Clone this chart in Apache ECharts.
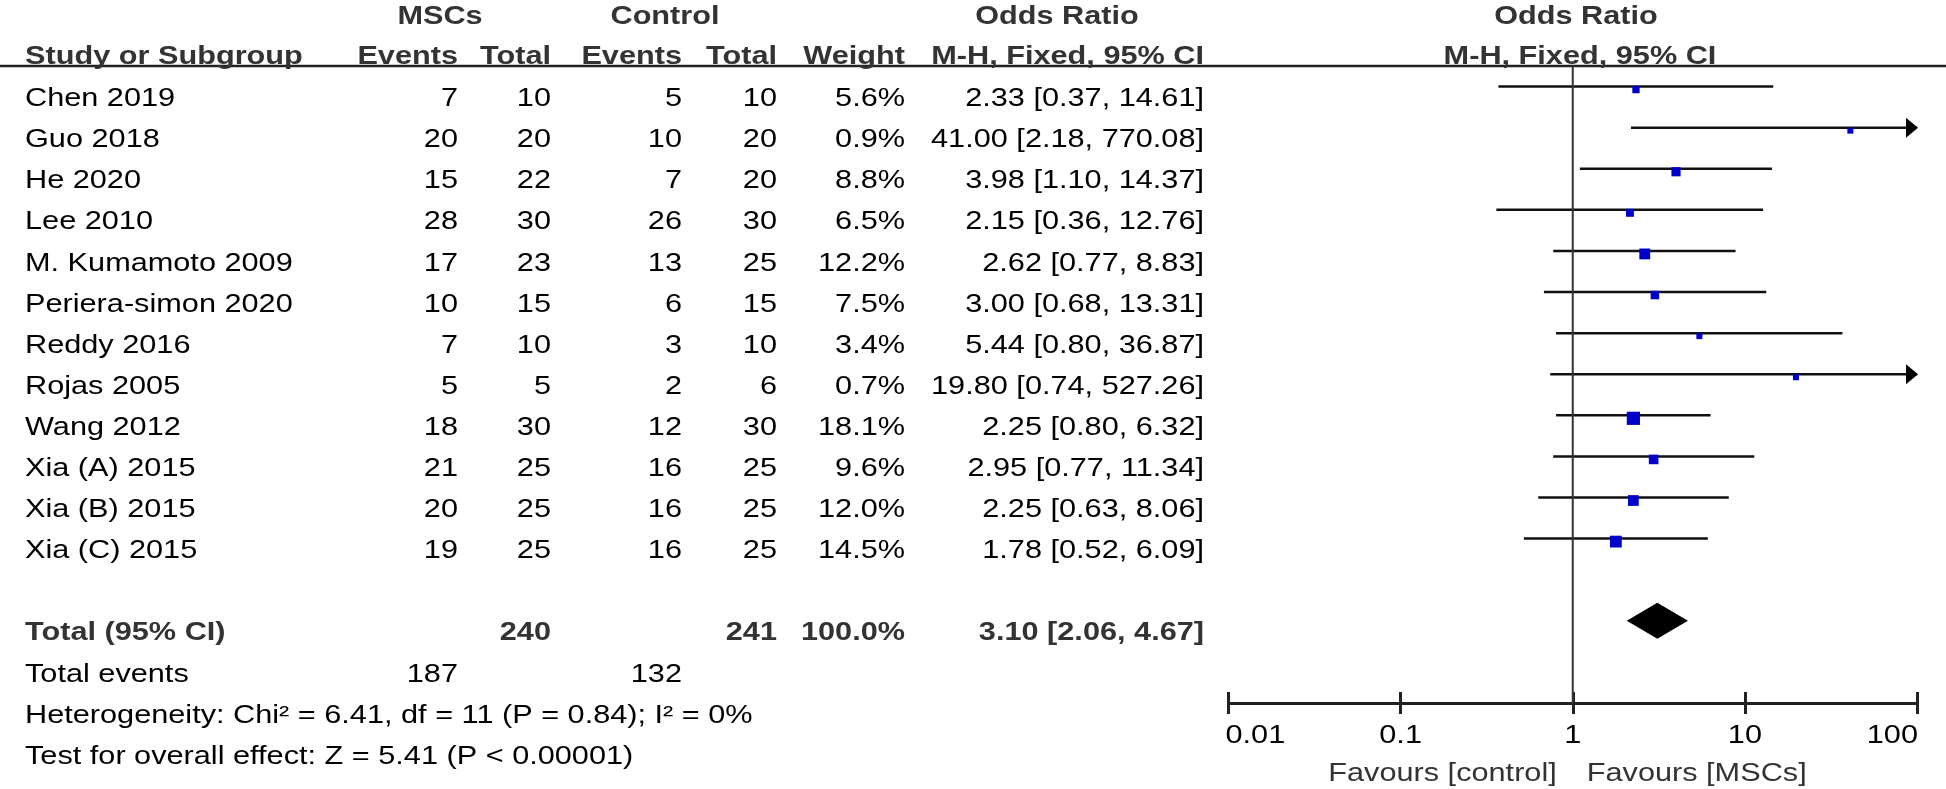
<!DOCTYPE html>
<html>
<head>
<meta charset="utf-8">
<title>Forest plot</title>
<script src="https://cdn.jsdelivr.net/npm/echarts@6/dist/echarts.min.js"></script>
<style>
  html, body { margin: 0; padding: 0; background: #fff; }
  #chart { width: 1946px; height: 789px; }
</style>
</head>
<body>
<div id="chart"></div>
<script>
// studies, top to bottom
const studies = ['Chen 2019', 'Guo 2018', 'He 2020', 'Lee 2010', 'M. Kumamoto 2009', 'Periera-simon 2020',
  'Reddy 2016', 'Rojas 2005', 'Wang 2012', 'Xia (A) 2015', 'Xia (B) 2015', 'Xia (C) 2015']
const mscEvents = [7, 20, 15, 28, 17, 10, 7, 5, 18, 21, 20, 19]
const mscTotal = [10, 20, 22, 30, 23, 15, 10, 5, 30, 25, 25, 25]
const ctrlEvents = [5, 10, 7, 26, 13, 6, 3, 2, 12, 16, 16, 16]
const ctrlTotal = [10, 20, 20, 30, 25, 15, 10, 6, 30, 25, 25, 25]
const weights = [5.6, 0.9, 8.8, 6.5, 12.2, 7.5, 3.4, 0.7, 18.1, 9.6, 12.0, 14.5]
const orEst = [2.33, 41.00, 3.98, 2.15, 2.62, 3.00, 5.44, 19.80, 2.25, 2.95, 2.25, 1.78]
const orLow = [0.37, 2.18, 1.10, 0.36, 0.77, 0.68, 0.80, 0.74, 0.80, 0.77, 0.63, 0.52]
const orHigh = [14.61, 770.08, 14.37, 12.76, 8.83, 13.31, 36.87, 527.26, 6.32, 11.34, 8.06, 6.09]

// pooled result
const totalWeight = 100.0
const totalOR = [3.10, 2.06, 4.67] // estimate, low, high
const heterogeneity = [6.41, 11, 0.84, 0] // Chi², df, P, I²
const overallEffect = [5.41, '< 0.00001'] // Z, P

// x axis
const axisTicks = [0.01, 0.1, 1, 10, 100]
const axisTickLabels = ['0.01', '0.1', '1', '10', '100']
const favours = ['Favours [control]', 'Favours [MSCs]']

// layout / style
const FONT = '"Liberation Sans", Arial, Helvetica, sans-serif'
const FONT_SIZE = 26
const STRETCH = 1.18
const HEAD_COLOR = '#333'
const TEXT_COLOR = '#000'
const SQUARE_COLOR = '#0000c8'
const X_MIN = 0.01
const X_MAX = 100

// table rows: studies 0..11, then totals
const TABLE_Y_MIN = -2
const HEAD1 = -2
const HEAD2 = -1.02
const TOTAL_ROW = 13
const EVENTS_ROW = 14
const HET_ROW = 15
const TEST_ROW = 16
const PLOT_Y_MIN = -0.5
const PLOT_Y_MAX = 15

// column anchors in px
const col = {
  study: [25, 'left'],
  mscEvents: [458, 'right'],
  mscTotal: [551, 'right'],
  ctrlEvents: [682, 'right'],
  ctrlTotal: [777, 'right'],
  weight: [905, 'right'],
  or: [1204, 'right']
}

const sum = arr => arr.reduce((a, b) => a + b, 0)
const f2 = v => v.toFixed(2)
const orText = (e, l, h) => `${f2(e)} [${f2(l)}, ${f2(h)}]`

const cells = []
function addCell(key, row, text, head) {
  const c = Array.isArray(key) ? key : col[key]
  cells.push({ x: c[0], align: c[1], row, text: String(text), bold: !!head, color: head ? HEAD_COLOR : TEXT_COLOR })
}

// headers
addCell([440, 'center'], HEAD1, 'MSCs', true)
addCell([665, 'center'], HEAD1, 'Control', true)
addCell([1057, 'center'], HEAD1, 'Odds Ratio', true)
addCell([1576, 'center'], HEAD1, 'Odds Ratio', true)
addCell('study', HEAD2, 'Study or Subgroup', true)
addCell('mscEvents', HEAD2, 'Events', true)
addCell('mscTotal', HEAD2, 'Total', true)
addCell('ctrlEvents', HEAD2, 'Events', true)
addCell('ctrlTotal', HEAD2, 'Total', true)
addCell('weight', HEAD2, 'Weight', true)
addCell('or', HEAD2, 'M-H, Fixed, 95% CI', true)
addCell([1580, 'center'], HEAD2, 'M-H, Fixed, 95% CI', true)

// study rows
studies.forEach((s, i) => {
  addCell('study', i, s)
  addCell('mscEvents', i, mscEvents[i])
  addCell('mscTotal', i, mscTotal[i])
  addCell('ctrlEvents', i, ctrlEvents[i])
  addCell('ctrlTotal', i, ctrlTotal[i])
  addCell('weight', i, weights[i].toFixed(1) + '%')
  addCell('or', i, orText(orEst[i], orLow[i], orHigh[i]))
})

// totals
addCell('study', TOTAL_ROW, 'Total (95% CI)', true)
addCell('mscTotal', TOTAL_ROW, sum(mscTotal), true)
addCell('ctrlTotal', TOTAL_ROW, sum(ctrlTotal), true)
addCell('weight', TOTAL_ROW, totalWeight.toFixed(1) + '%', true)
addCell('or', TOTAL_ROW, orText(totalOR[0], totalOR[1], totalOR[2]), true)
addCell('study', EVENTS_ROW, 'Total events')
addCell('mscEvents', EVENTS_ROW, sum(mscEvents))
addCell('ctrlEvents', EVENTS_ROW, sum(ctrlEvents))
addCell('study', HET_ROW, `Heterogeneity: Chi² = ${f2(heterogeneity[0])}, df = ${heterogeneity[1]} (P = ${f2(heterogeneity[2])}); I² = ${heterogeneity[3]}%`)
addCell('study', TEST_ROW, `Test for overall effect: Z = ${f2(overallEffect[0])} (P ${overallEffect[1]})`)

function textEl(x, y, text, align, bold, color) {
  return {
    type: 'text',
    x: x,
    y: y,
    scaleX: STRETCH,
    silent: true,
    style: {
      text: text,
      fill: color,
      fontFamily: FONT,
      fontSize: FONT_SIZE,
      fontWeight: bold ? 'bold' : 'normal',
      align: align,
      verticalAlign: 'middle',
      textAlign: align,
      textVerticalAlign: 'middle'
    }
  }
}

const chart = echarts.init(document.getElementById('chart'))
chart.setOption({
  animation: false,
  backgroundColor: '#fff',
  grid: [
    { left: 0, right: 0, top: 16.8, bottom: 32.4, outerBoundsMode: 'none' },
    { left: 1228.5, right: 29, top: 66, bottom: 86, outerBoundsMode: 'none' }
  ],
  xAxis: [
    { gridIndex: 0, type: 'value', min: 0, max: 1946, show: false },
    {
      gridIndex: 1,
      type: 'log',
      logBase: 10,
      min: X_MIN,
      max: X_MAX,
      position: 'bottom',
      axisLine: { onZero: false, lineStyle: { color: '#222', width: 3 } },
      axisTick: { length: 11, lineStyle: { color: '#222', width: 3 } },
      axisLabel: { show: false },
      splitLine: { show: false }
    },
    {
      gridIndex: 1,
      type: 'log',
      logBase: 10,
      min: X_MIN,
      max: X_MAX,
      position: 'bottom',
      axisLine: { show: false, onZero: false },
      axisTick: { inside: true, length: 11, lineStyle: { color: '#222', width: 3 } },
      axisLabel: { show: false },
      splitLine: { show: false }
    }
  ],
  yAxis: [
    { gridIndex: 0, type: 'value', min: TABLE_Y_MIN, max: TEST_ROW, inverse: true, show: false },
    { gridIndex: 1, type: 'value', min: PLOT_Y_MIN, max: PLOT_Y_MAX, inverse: true, show: false }
  ],
  graphic: [
    {
      type: 'line',
      silent: true,
      shape: { x1: 0, y1: 66, x2: 1946, y2: 66 },
      style: { stroke: '#222', lineWidth: 2.5 }
    }
  ],
  series: [
    // table text
    {
      type: 'custom',
      xAxisIndex: 0,
      yAxisIndex: 0,
      silent: true,
      data: cells.map(c => [c.x, c.row]),
      encode: { x: 0, y: 1 },
      renderItem(params, api) {
        const c = cells[params.dataIndex]
        const p = api.coord([c.x, c.row])
        return textEl(p[0], p[1], c.text, c.align, c.bold, c.color)
      }
    },
    // line of no effect
    {
      type: 'line',
      xAxisIndex: 1,
      yAxisIndex: 1,
      silent: true,
      symbol: 'none',
      data: [[1, PLOT_Y_MIN], [1, PLOT_Y_MAX]],
      lineStyle: { color: '#333', width: 2 }
    },
    // study CIs and squares
    {
      type: 'custom',
      xAxisIndex: 1,
      yAxisIndex: 1,
      silent: true,
      data: studies.map((s, i) => [i, orEst[i], orLow[i], orHigh[i], weights[i]]),
      encode: { x: [1, 2, 3], y: 0 },
      renderItem(params, api) {
        const row = api.value(0)
        const lo = api.coord([Math.max(api.value(2), X_MIN), row])
        const hi = api.coord([Math.min(api.value(3), X_MAX), row])
        const est = api.coord([api.value(1), row])
        const size = Math.max(6, 3.1 * Math.sqrt(api.value(4)))
        const children = [
          {
            type: 'line',
            shape: { x1: lo[0], y1: lo[1], x2: hi[0], y2: hi[1] },
            style: { stroke: '#111', lineWidth: 2.5 }
          },
          {
            type: 'rect',
            shape: { x: est[0] - size / 2, y: est[1] - size / 2 + 3, width: size, height: size },
            style: { fill: SQUARE_COLOR }
          }
        ]
        if (api.value(3) > X_MAX) {
          children.push({
            type: 'polygon',
            shape: { points: [[hi[0] + 1, hi[1]], [hi[0] - 11, hi[1] - 10], [hi[0] - 11, hi[1] + 10]] },
            style: { fill: '#000' }
          })
        }
        return { type: 'group', children }
      }
    },
    // pooled diamond
    {
      type: 'custom',
      xAxisIndex: 1,
      yAxisIndex: 1,
      silent: true,
      data: [[TOTAL_ROW, totalOR[0], totalOR[1], totalOR[2]]],
      encode: { x: [1, 2, 3], y: 0 },
      renderItem(params, api) {
        const row = api.value(0)
        const c = api.coord([api.value(1), row])
        const l = api.coord([api.value(2), row])
        const h = api.coord([api.value(3), row])
        return {
          type: 'polygon',
          shape: { points: [[l[0], c[1]], [c[0], c[1] - 18], [h[0], c[1]], [c[0], c[1] + 18]] },
          style: { fill: '#000' }
        }
      }
    },
    // tick labels and favours text under the axis
    {
      type: 'custom',
      xAxisIndex: 1,
      yAxisIndex: 1,
      silent: true,
      data: axisTicks.map(v => [v, PLOT_Y_MAX]),
      encode: { x: 0, y: 1 },
      renderItem(params, api) {
        const i = params.dataIndex
        const p = api.coord([api.value(0), api.value(1)])
        const last = axisTicks.length - 1
        const align = i === 0 ? 'left' : (i === last ? 'right' : 'center')
        const dx = i === 0 ? -3 : (i === last ? 1 : 0)
        const children = [textEl(p[0] + dx, p[1] + 33, axisTickLabels[i], align, false, TEXT_COLOR)]
        if (api.value(0) === 1) {
          children.push(textEl(p[0] - 16, p[1] + 71, favours[0], 'right', false, HEAD_COLOR))
          children.push(textEl(p[0] + 14, p[1] + 71, favours[1], 'left', false, HEAD_COLOR))
        }
        return { type: 'group', children }
      }
    }
  ]
})
</script>
</body>
</html>
